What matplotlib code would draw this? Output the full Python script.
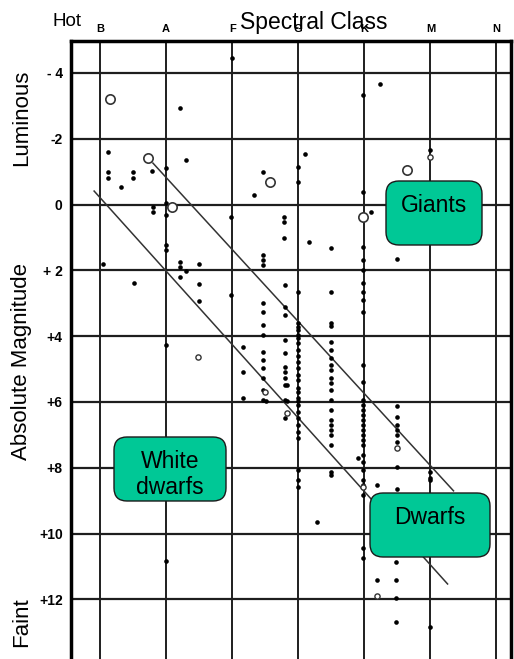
import matplotlib
matplotlib.use('Agg')
import matplotlib.pyplot as plt
from matplotlib.patches import FancyBboxPatch

plt.rcParams['font.family'] = ['Liberation Sans', 'DejaVu Sans']

# Spectral classes along the top (B = 0, A = 1, ...)
spectral_classes = ['B', 'A', 'F', 'G', 'K', 'M', 'N']
mag_ticks = [-4, -2, 0, 2, 4, 6, 8, 10, 12]
mag_labels = ['- 4', '-2', '0', '+ 2', '+4', '+6', '+8', '+10', '+12']

# Filled stars: spectral position and absolute magnitude
dot_class = [
    # bright region
    1.21, 3.98, 4.24, 2.0, 0.12, 0.12, 0.12, 0.5, 0.5, 0.32, 1.3, 0.79, 1.0,
    0.8, 0.8, 1.0, 1.0, 1.98, 1.0, 1.0, 0.05, 1.21, 1.21, 1.5, 1.3, 1.21,
    1.5, 0.51, 1.5, 1.98, 2.33, 3.1, 2.47, 3.0, 3.0, 4.99, 4.99, 3.98, 4.1,
    2.78, 2.78, 2.78, 3.16, 3.49, 2.47, 2.47, 2.47, 4.49, 2.8, 3.0, 3.49,
    3.98, 3.98, 3.98, 3.98, 3.98, 3.98, 3.98,
    # F / A
    1.0, 2.17, 2.17, 2.17,
    # column near F5
    2.47, 2.47, 2.47, 2.47, 2.47, 2.47, 2.47, 2.47, 2.47, 2.47, 2.51,
    # column near F8
    2.8, 2.8, 2.8, 2.8, 2.8, 2.8, 2.8, 2.8, 2.8, 2.8, 2.83, 2.83,
    # G column
    3.0, 3.0, 3.0, 3.0, 3.0, 3.0, 3.0, 3.0, 3.0, 3.0, 3.0, 3.0, 3.0,
    3.0, 3.0, 3.0, 3.0, 3.0, 3.0, 3.0, 3.0, 3.0, 3.0, 3.0, 3.0,
    # G5 column
    3.49, 3.49, 3.49, 3.49, 3.49, 3.49, 3.49, 3.49, 3.49, 3.49, 3.49,
    3.49, 3.49, 3.49, 3.49, 3.49, 3.49, 3.49, 3.49,
    # K column
    3.98, 3.98, 3.98, 3.98, 3.98, 3.98, 3.98, 3.98, 3.98, 3.98, 3.98,
    3.98, 3.98, 3.98, 3.98, 3.98, 3.98, 3.98, 3.98, 3.98,
    3.91, 4.19,
    # K5 column
    4.49, 4.49, 4.49, 4.49, 4.49, 4.49, 4.49, 4.49,
    # M column and faint stars
    4.99, 4.99, 4.99, 4.99,
    3.28, 1.0, 4.48, 4.19, 4.48, 4.48, 4.48,
]
dot_mag = [
    -2.94, -3.33, -3.67, -4.45, -1.6, -0.99, -0.81, -0.99, -0.81, -0.53, -1.36, -1.02, -1.11,
    0.07, 0.22, 0.32, -0.05, 0.38, 1.23, 1.38, 1.81, 1.74, 1.9, 1.81, 2.02, 2.2,
    2.41, 2.38, 2.93, 2.75, -0.29, -1.54, -0.99, -0.69, -1.15, -1.45, -1.66, -0.38, 0.22,
    0.38, 0.53, 1.02, 1.14, 1.32, 1.53, 1.68, 1.84, 1.65, 2.44, 2.66, 2.66,
    1.29, 1.68, 1.99, 2.38, 2.66, 2.9, 3.26,
    4.27, 4.33, 5.09, 5.88,
    2.99, 3.26, 3.66, 3.96, 4.48, 4.72, 4.97, 5.27, 5.64, 5.94, 5.97,
    3.11, 3.36, 4.12, 4.51, 4.94, 5.09, 5.27, 5.48, 5.94, 6.49, 5.48, 5.97,
    3.6, 3.72, 3.81, 3.96, 4.05, 4.21, 4.42, 4.6, 4.78, 4.97, 5.18, 5.33, 5.57,
    5.7, 5.88, 5.97, 6.09, 6.3, 6.49, 6.7, 6.91, 7.09, 8.07, 8.37, 8.58,
    3.6, 3.69, 4.18, 4.42, 4.66, 4.88, 5.03, 5.27, 5.42, 5.64, 5.94,
    6.24, 6.55, 6.7, 6.85, 7.0, 7.31, 8.13, 8.22,
    4.88, 5.39, 5.94, 6.09, 6.24, 6.4, 6.55, 6.7, 6.85, 7.0, 7.16,
    7.31, 7.61, 7.82, 8.07, 8.37, 8.52, 8.83, 10.44, 10.74,
    7.7, 8.52,
    6.12, 6.46, 6.7, 6.85, 7.0, 7.22, 7.98, 8.64,
    8.13, 8.31, 8.37, 12.84,
    9.65, 10.83, 10.86, 11.41, 11.41, 11.96, 12.69,
]

# Open circles (large and small)
big_ring_class = [0.15, 0.73, 1.09, 2.57, 3.98, 4.64]
big_ring_mag = [-3.2, -1.4, 0.07, -0.69, 0.38, -1.05]
small_ring_class = [4.99, 1.48, 2.5, 2.83, 3.98, 4.49, 4.19]
small_ring_mag = [-1.45, 4.63, 5.7, 6.33, 8.58, 7.4, 11.9]

# Boundaries of the main-sequence band
upper_band_class = [0.80, 5.35]
upper_band_mag = [-1.26, 8.7]
lower_band_class = [-0.09, 5.26]
lower_band_mag = [-0.41, 11.53]

fig = plt.figure(figsize=(5.14, 6.59), dpi=100)
ax = fig.add_axes([71 / 514, 0, 440 / 514, 618 / 659])
ax.set_xlim(-0.44, 6.22)
ax.set_ylim(13.81, -4.97)

# grid of the original plate
for i in range(len(spectral_classes)):
    ax.axvline(i, color='#1e1e1e', lw=1.4, zorder=1)
for m in mag_ticks:
    ax.axhline(m, color='#1e1e1e', lw=1.6, zorder=1)

ax.plot(upper_band_class, upper_band_mag, color='#333333', lw=1.1, zorder=2)
ax.plot(lower_band_class, lower_band_mag, color='#333333', lw=1.1, zorder=2)

ax.scatter(dot_class, dot_mag, s=11, color='black', zorder=3, linewidths=0)
ax.scatter(big_ring_class, big_ring_mag, s=45, facecolors='white',
           edgecolors='#333333', linewidths=1.2, zorder=3)
ax.scatter(small_ring_class, small_ring_mag, s=14, facecolors='white',
           edgecolors='#333333', linewidths=1.0, zorder=3)

ax.xaxis.tick_top()
ax.set_xticks(range(len(spectral_classes)))
ax.set_xticklabels(spectral_classes, fontsize=8, fontweight='bold')
ax.set_yticks(mag_ticks)
ax.set_yticklabels(mag_labels, fontsize=10, fontweight='bold')
ax.tick_params(axis='x', length=0, pad=5)
ax.tick_params(axis='y', length=0, pad=6)

ax.spines['bottom'].set_visible(False)
for side in ['top', 'left', 'right']:
    ax.spines[side].set_linewidth(2.5)

# outer labels
fig.text(67 / 514, 1 - 21 / 659, 'Hot', fontsize=13.5, ha='center', va='center')
fig.text(314 / 514, 1 - 22 / 659, 'Spectral Class', fontsize=16.5, ha='center', va='center')
fig.text(22 / 514, 1 - 118 / 659, 'Luminous', fontsize=16, rotation=90, ha='center', va='center')
fig.text(22 / 514, 1 - 362 / 659, 'Absolute Magnitude', fontsize=16, rotation=90,
         ha='center', va='center')
fig.text(22 / 514, 1 - 622 / 659, 'Faint', fontsize=16, rotation=90, ha='center', va='center')

# green label boxes (pixel layout converted to inches)
def label_box(x0, y0, x1, y1, lines, text_y):
    box = FancyBboxPatch((x0 / 100, (659 - y1) / 100), (x1 - x0) / 100, (y1 - y0) / 100,
                         boxstyle='round,pad=0,rounding_size=0.13',
                         transform=fig.dpi_scale_trans, facecolor='#00C896',
                         edgecolor='#1a1a1a', linewidth=1.0, zorder=5)
    fig.patches.append(box)
    for txt, ty in zip(lines, text_y):
        fig.text((x0 + x1) / 2 / 514, 1 - ty / 659, txt, fontsize=16.5,
                 ha='center', va='center', zorder=6)

label_box(386, 181, 482, 245, ['Giants'], [205])
label_box(114, 437, 226, 501, ['White', 'dwarfs'], [462, 488])
label_box(370, 493, 490, 557, ['Dwarfs'], [517])

fig.savefig('out.png', dpi=100)
